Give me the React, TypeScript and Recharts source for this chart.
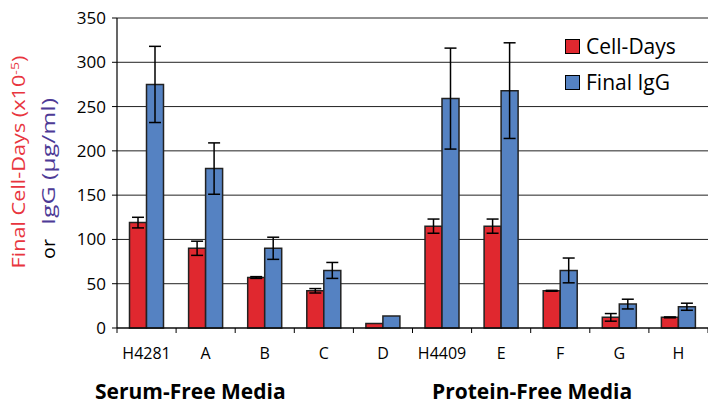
import React from 'react';
import { BarChart, Bar, XAxis, YAxis, CartesianGrid, ErrorBar, Legend } from 'recharts';

const categories = ['H4281', 'A', 'B', 'C', 'D', 'H4409', 'E', 'F', 'G', 'H'];
const cellDays = [119, 90, 57, 42, 5, 115, 115, 42, 12, 12];
const cellDaysErr = [6, 8, 1, 2.5, 0, 8, 8, 0.5, 4.3, 0.5];
const finalIgG = [275, 180, 90, 65, 13.5, 259, 268, 65, 27, 24];
const finalIgGErr = [43, 29, 12.5, 9, 0, 57, 54, 14, 5.5, 4];
const yTicks = [0, 50, 100, 150, 200, 250, 300, 350];
const seriesNames = ['Cell-Days', 'Final IgG'];
const groupLabels = ['Serum-Free Media', 'Protein-Free Media'];

const RED = '#E0282F';
const BLUE = '#5582C2';
const FONT = '"Open Sans", sans-serif';

const data = categories.map((c, i) => ({
  name: c,
  cellDays: cellDays[i],
  cellDaysErr: cellDaysErr[i],
  finalIgG: finalIgG[i],
  finalIgGErr: finalIgGErr[i],
}));

const XTick = (props: any) => {
  const { x, y, payload, index } = props;
  const off = payload.offset || 0;
  const last = index === categories.length - 1;
  return (
    <g>
      <line x1={x - off} x2={x - off} y1={y - 5} y2={y} stroke="#000" strokeWidth={1} />
      {last && <line x1={x + off} x2={x + off} y1={y - 5} y2={y} stroke="#000" strokeWidth={1} />}
      <text x={x} y={y + 26} textAnchor="middle" fontSize={16} fill="#000" fontFamily={FONT}>
        {payload.value}
      </text>
    </g>
  );
};

const LegendContent = () => {
  const colors = [RED, BLUE];
  return (
    <div style={{ fontFamily: FONT }}>
      {seriesNames.map((n, i) => (
        <div key={n} style={{ display: 'flex', alignItems: 'center', height: 36 }}>
          <span
            style={{
              display: 'inline-block',
              width: 13,
              height: 13,
              background: colors[i],
              border: '1px solid #000',
              marginRight: 6,
            }}
          />
          <span style={{ fontSize: 21, color: '#000' }}>{n}</span>
        </div>
      ))}
    </div>
  );
};

export default function App() {
  return (
    <div style={{ position: 'absolute', left: 0, top: 0, width: 708, height: 405, background: '#fff' }}>
      <BarChart
        width={708}
        height={405}
        data={data}
        margin={{ top: 18, right: 0, left: 0, bottom: 47 }}
        barCategoryGap={12.5}
        barGap={0}
      >
        <CartesianGrid vertical={false} stroke="#222" strokeWidth={1} />
        <XAxis
          dataKey="name"
          height={30}
          tickLine={false}
          tickSize={5}
          tickMargin={0}
          axisLine={{ stroke: '#000', strokeWidth: 1.2 }}
          tick={<XTick />}
          interval={0}
        />
        <YAxis
          width={117}
          domain={[0, 350]}
          ticks={yTicks}
          tickSize={5}
          tickMargin={6}
          axisLine={{ stroke: '#000', strokeWidth: 1.2 }}
          tickLine={{ stroke: '#000' }}
          tick={{ fontSize: 17, fill: '#000', fontFamily: FONT }}
          interval={0}
        />
        <Legend
          layout="horizontal"
          verticalAlign="middle"
          align="center"
          content={<LegendContent />}
          wrapperStyle={{ position: 'absolute', top: 28, left: 565, width: 140 }}
        />
        <Bar dataKey="cellDays" name={seriesNames[0]} fill={RED} stroke="#222" strokeWidth={1.5} isAnimationActive={false}>
          <ErrorBar dataKey="cellDaysErr" width={6} stroke="#000" strokeWidth={1.5} direction="y" />
        </Bar>
        <Bar dataKey="finalIgG" name={seriesNames[1]} fill={BLUE} stroke="#222" strokeWidth={1.5} isAnimationActive={false}>
          <ErrorBar dataKey="finalIgGErr" width={6} stroke="#000" strokeWidth={1.5} direction="y" />
        </Bar>
      </BarChart>
      <svg
        width={708}
        height={405}
        style={{ position: 'absolute', left: 0, top: 0, pointerEvents: 'none' }}
        fontFamily={FONT}
      >
        <text
          x={25}
          y={162}
          transform="rotate(-90, 25, 162)"
          textAnchor="middle"
          fontSize={17.5}
          fill="#E8353E"
          textLength={213}
          lengthAdjust="spacingAndGlyphs"
        >
          Final Cell-Days (x10
          <tspan dy={-6} fontSize={11.5}>-5</tspan>
          <tspan dy={6}>)</tspan>
        </text>
        <text
          x={55}
          y={249}
          transform="rotate(-90, 55, 249)"
          textAnchor="middle"
          fontSize={17.5}
          fill="#000"
          textLength={20}
          lengthAdjust="spacingAndGlyphs"
        >
          or
        </text>
        <text
          x={55}
          y={161.5}
          transform="rotate(-90, 55, 161.5)"
          textAnchor="middle"
          fontSize={17.5}
          fill="#4D3A96"
          textLength={127}
          lengthAdjust="spacingAndGlyphs"
        >
          IgG (µg/ml)
        </text>
        <text x={95} y={399} fontSize={21} fontWeight="bold" fill="#000">{groupLabels[0]}</text>
        <text x={432} y={399} fontSize={21} fontWeight="bold" fill="#000">{groupLabels[1]}</text>
      </svg>
    </div>
  );
}
